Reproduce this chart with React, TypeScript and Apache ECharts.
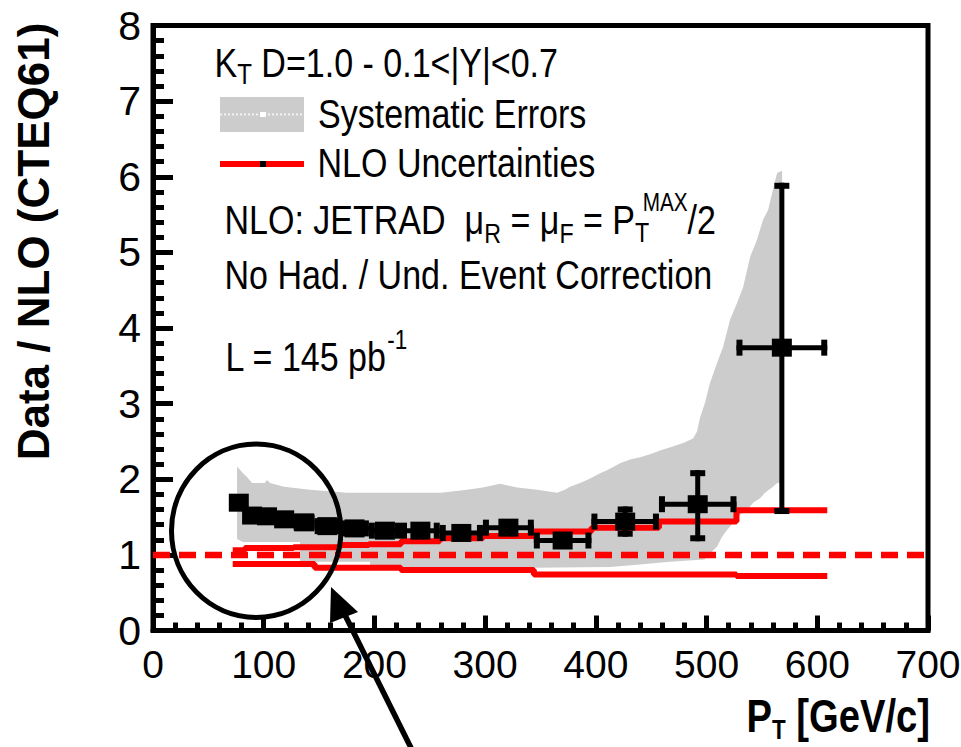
import { useEffect, useRef } from "react";
import * as echarts from "echarts";

const SANS = "'Liberation Sans', Arial, Helvetica, sans-serif";
const SX = 0.83; // horizontal condensing of the reference's narrow lettering

// Axis ranges / ticks
const xRange = [0, 700];
const yRange = [0, 8];

// Data / NLO points (bins in pT, GeV/c)
const binLow = [72, 83, 96, 110, 127, 146, 169, 195, 224, 259, 298, 344, 396, 457, 527];
const binHigh = [83, 96, 110, 127, 146, 169, 195, 224, 259, 298, 344, 396, 457, 527, 609];
const dataRatio = [1.69, 1.52, 1.51, 1.47, 1.43, 1.38, 1.35, 1.32, 1.32, 1.29, 1.36, 1.19, 1.44, 1.67, 3.74];
const statErrUp = [0.03, 0.03, 0.03, 0.03, 0.04, 0.04, 0.04, 0.05, 0.06, 0.07, 0.08, 0.1, 0.2, 0.45, 2.18];
const statErrDown = [0.03, 0.03, 0.03, 0.03, 0.04, 0.04, 0.04, 0.05, 0.06, 0.07, 0.08, 0.1, 0.2, 0.49, 2.2];

// NLO uncertainties (step lines)
const nloEdges = [72, 83, 96, 110, 127, 146, 169, 195, 224, 259, 298, 344, 396, 457, 527, 609];
const nloUpper = [1.06, 1.09, 1.09, 1.09, 1.1, 1.1, 1.13, 1.14, 1.18, 1.22, 1.25, 1.31, 1.36, 1.44, 1.59];
const nloLower = [0.88, 0.88, 0.88, 0.88, 0.88, 0.83, 0.83, 0.83, 0.8, 0.8, 0.8, 0.74, 0.74, 0.74, 0.72];

// Systematic error band
const sysUpperPt = [75.9, 81.3, 84.9, 89.4, 101, 103, 105.7, 118.3, 141.8, 175, 260, 283.6, 298, 313.5, 328.8, 346.9, 365, 372, 376.7, 385.7, 392, 397.5, 403.8, 410, 416.4, 421.9, 430.9, 440, 449, 458, 468.8, 478.8, 487.8, 491.4, 494, 498.6, 503, 509.5, 514.9, 521.2, 527.5, 533, 539.3, 545.6, 551, 555.6, 560, 563.7, 568.2];
const sysUpperVal = [2.17, 2.08, 2.03, 1.95, 1.95, 1.99, 1.95, 1.9, 1.86, 1.82, 1.82, 1.86, 1.89, 1.94, 1.89, 1.86, 1.82, 1.86, 1.9, 1.95, 1.99, 2.03, 2.08, 2.12, 2.17, 2.21, 2.26, 2.29, 2.33, 2.38, 2.43, 2.48, 2.54, 2.63, 2.81, 3.01, 3.27, 3.54, 3.75, 4.11, 4.33, 4.54, 4.94, 5.17, 5.43, 5.56, 5.83, 6.05, 6.08];
const sysLowerPt = [75.9, 81.3, 132.8, 132.8, 196, 196, 412.8, 437, 467, 498, 504, 509.5, 514, 518.5, 524, 530.3, 536.6, 542, 548.3, 552.8, 560, 563.7, 568.2];
const sysLowerVal = [1.21, 1.17, 1.17, 0.91, 0.91, 0.81, 0.84, 0.87, 0.91, 0.94, 1.03, 1.11, 1.24, 1.33, 1.42, 1.53, 1.59, 1.69, 1.75, 1.82, 1.9, 1.95, 1.95];

// Reference line Data/NLO = 1
const refLineX = [0, 725];
const refLineY = [1, 1];

const RED = "#ff0000";

export default function App() {
  const ref = useRef<HTMLDivElement>(null);

  useEffect(() => {
    if (!ref.current) return;
    const chart = echarts.init(ref.current, null, { renderer: "svg" });

    const stepData = (vals: number[]) => {
      const d: number[][] = vals.map((v, i) => [nloEdges[i], v]);
      d.push([nloEdges[nloEdges.length - 1], vals[vals.length - 1]]);
      return d;
    };

    const pointData = binLow.map((lo, i) => [
      (lo + binHigh[i]) / 2,
      dataRatio[i],
      lo,
      binHigh[i],
      statErrUp[i],
      statErrDown[i],
    ]);

    const plain = (size: number, extra: any = {}) => ({ fontFamily: SANS, fontSize: size, lineHeight: 50, fill: "#000", ...extra });

    const option: any = {
      animation: false,
      backgroundColor: "#ffffff",
      grid: {
        left: 153,
        top: 25.5,
        width: 775,
        height: 605,
        show: true,
        borderColor: "#000",
        borderWidth: 5,
        backgroundColor: "transparent",
        containLabel: false,
        outerBoundsMode: "none",
      },
      xAxis: {
        type: "value",
        min: xRange[0],
        max: xRange[1],
        interval: 100,
        axisLine: { show: true, lineStyle: { color: "#000", width: 5 } },
        axisTick: { show: true, inside: true, length: 15, lineStyle: { color: "#000", width: 5 } },
        minorTick: { show: true, splitNumber: 5, length: 8, lineStyle: { color: "#000", width: 5 } },
        splitLine: { show: false },
        minorSplitLine: { show: false },
        axisLabel: { fontFamily: SANS, fontSize: 39, color: "#000", margin: 14, showMinLabel: true, showMaxLabel: true },
      },
      yAxis: {
        type: "value",
        min: yRange[0],
        max: yRange[1],
        interval: 1,
        axisLine: { show: true, lineStyle: { color: "#000", width: 5 } },
        axisTick: { show: true, inside: true, length: 20, lineStyle: { color: "#000", width: 5 } },
        minorTick: { show: true, splitNumber: 5, length: 11, lineStyle: { color: "#000", width: 5 } },
        splitLine: { show: false },
        minorSplitLine: { show: false },
        axisLabel: { fontFamily: SANS, fontSize: 41, color: "#000", margin: 12, showMinLabel: true, showMaxLabel: true },
      },
      series: [
        {
          name: "Systematic Errors",
          type: "custom",
          z: 1,
          silent: true,
          data: [[0, 0]],
          renderItem: (_p: any, api: any) => {
            const pts: number[][] = [];
            for (let i = 0; i < sysUpperPt.length; i++) pts.push(api.coord([sysUpperPt[i], sysUpperVal[i]]));
            for (let i = sysLowerPt.length - 1; i >= 0; i--) pts.push(api.coord([sysLowerPt[i], sysLowerVal[i]]));
            return { type: "polygon", shape: { points: pts }, style: { fill: "#cccccc", stroke: "none" } };
          },
        },
        {
          name: "NLO upper",
          type: "line",
          step: "end",
          z: 2,
          symbol: "none",
          silent: true,
          data: stepData(nloUpper),
          lineStyle: { color: RED, width: 6 },
        },
        {
          name: "NLO lower",
          type: "line",
          step: "end",
          z: 2,
          symbol: "none",
          silent: true,
          data: stepData(nloLower),
          lineStyle: { color: RED, width: 6 },
        },
        {
          name: "Ratio 1",
          type: "line",
          z: 3,
          symbol: "none",
          silent: true,
          clip: false,
          data: refLineX.map((x, i) => [x, refLineY[i]]),
          lineStyle: { color: RED, width: 6.5, type: [17, 9] },
        },
        {
          name: "Errors",
          type: "custom",
          z: 4,
          silent: true,
          encode: { x: 0, y: 1 },
          data: pointData,
          renderItem: (_p: any, api: any) => {
            const xc = api.value(0) as number;
            const yv = api.value(1) as number;
            const lo = api.value(2) as number;
            const hi = api.value(3) as number;
            const eu = api.value(4) as number;
            const ed = api.value(5) as number;
            const pL = api.coord([lo, yv]);
            const pR = api.coord([hi, yv]);
            const pT = api.coord([xc, yv + eu]);
            const pB = api.coord([xc, yv - ed]);
            const s = { fill: "#000" };
            return {
              type: "group",
              children: [
                { type: "rect", shape: { x: pL[0], y: pL[1] - 2.5, width: pR[0] - pL[0], height: 5 }, style: s },
                { type: "rect", shape: { x: pL[0], y: pL[1] - 8, width: 6, height: 16 }, style: s },
                { type: "rect", shape: { x: pR[0] - 6, y: pR[1] - 8, width: 6, height: 16 }, style: s },
                { type: "rect", shape: { x: pT[0] - 2.5, y: pT[1], width: 5, height: pB[1] - pT[1] }, style: s },
                { type: "rect", shape: { x: pT[0] - 7.5, y: pT[1], width: 15, height: 6 }, style: s },
                { type: "rect", shape: { x: pB[0] - 7.5, y: pB[1] - 6, width: 15, height: 6 }, style: s },
              ],
            };
          },
        },
        {
          name: "Data",
          type: "scatter",
          z: 5,
          silent: true,
          symbol: "rect",
          symbolSize: [20, 18],
          itemStyle: { color: "#000", opacity: 1 },
          data: pointData.map((d) => [d[0], d[1]]),
        },
      ],
      graphic: [
        // Y axis title
        {
          type: "text",
          x: 33,
          y: 241.5,
          rotation: Math.PI / 2,
          z: 20,
          style: {
            text: "Data / NLO (CTEQ61)",
            fontFamily: SANS,
            fontWeight: "bold",
            fontSize: 44,
            fill: "#000",
            align: "center",
            verticalAlign: "middle",
          },
        },
        // X axis title
        {
          type: "text",
          x: 930,
          y: 716,
          scaleX: SX,
          z: 20,
          style: {
            text: "{b|P}{bs|T}{b|\u00a0[GeV/c]}",
            align: "right",
            verticalAlign: "middle",
            ...plain(46, { fontWeight: "bold" }),
            rich: {
              b: plain(46, { fontWeight: "bold" }),
              bs: plain(27, { fontWeight: "bold", padding: [28, 0, 0, 0] }),
            },
          },
        },
        // Header line
        {
          type: "text",
          x: 214.5,
          y: 37.4,
          scaleX: SX,
          z: 20,
          style: {
            text: "{m|K}{s|T}{m|\u00a0D=1.0 - 0.1<|Y|<0.7}",
            align: "left",
            verticalAlign: "top",
            ...plain(41),
            rich: {
              m: plain(41),
              s: plain(29, { padding: [24, 0, 0, 0] }),
            },
          },
        },
        // Legend: systematic errors
        { type: "rect", z: 20, shape: { x: 220, y: 97, width: 84, height: 35 }, style: { fill: "#cccccc" } },
        { type: "line", z: 21, shape: { x1: 220, y1: 114.5, x2: 304, y2: 114.5 }, style: { stroke: "#f4f4f4", lineWidth: 2, lineDash: [2, 2] } },
        { type: "rect", z: 21, shape: { x: 260, y: 112, width: 6, height: 5 }, style: { fill: "#ffffff" } },
        {
          type: "text",
          x: 318,
          y: 89,
          scaleX: SX,
          z: 20,
          style: { text: "Systematic Errors", ...plain(41), align: "left", verticalAlign: "top" },
        },
        // Legend: NLO uncertainties
        { type: "line", z: 20, shape: { x1: 220, y1: 164, x2: 304, y2: 164 }, style: { stroke: RED, lineWidth: 6 } },
        { type: "rect", z: 21, shape: { x: 260, y: 161, width: 6, height: 6 }, style: { fill: "#000" } },
        {
          type: "text",
          x: 317.5,
          y: 137.4,
          scaleX: SX,
          z: 20,
          style: { text: "NLO Uncertainties", ...plain(41), align: "left", verticalAlign: "top" },
        },
        // NLO: JETRAD line
        {
          type: "text",
          x: 224.5,
          y: 195,
          scaleX: SX,
          z: 20,
          style: {
            text: "{m|NLO: JETRAD\u00a0\u00a0\u03bc}{s|R}{m|\u00a0=\u00a0\u03bc}{s|F}{m|\u00a0=\u00a0P}{t|T}{p|MAX}{m|/2}",
            align: "left",
            verticalAlign: "top",
            ...plain(41),
            rich: {
              m: plain(41),
              s: plain(28, { padding: [27, 0, 0, 0] }),
              t: plain(28, { padding: [25, 0, 0, 0] }),
              p: plain(25, { padding: [0, 0, 36, -8] }),
            },
          },
        },
        {
          type: "text",
          x: 224.5,
          y: 250,
          scaleX: SX,
          z: 20,
          style: { text: "No Had. / Und. Event Correction", ...plain(41), align: "left", verticalAlign: "top" },
        },
        {
          type: "text",
          x: 225.5,
          y: 331.4,
          scaleX: SX,
          z: 20,
          style: {
            text: "{m|L = 145 pb}{p|-1}",
            align: "left",
            verticalAlign: "top",
            ...plain(41),
            rich: {
              m: plain(41),
              p: plain(27, { padding: [0, 0, 34, 0] }),
            },
          },
        },
        // Annotation circle and arrow
        {
          type: "ellipse",
          z: 30,
          shape: { cx: 256.2, cy: 530.8, rx: 84.7, ry: 86.7 },
          style: { fill: "none", stroke: "#000", lineWidth: 5 },
        },
        {
          type: "line",
          z: 30,
          shape: { x1: 343.5, y1: 612, x2: 418, y2: 762 },
          style: { stroke: "#000", lineWidth: 5.5 },
        },
        {
          type: "polygon",
          z: 30,
          shape: { points: [[331, 587], [358, 612], [330, 623]] },
          style: { fill: "#000" },
        },
      ],
    };

    chart.setOption(option);
    return () => chart.dispose();
  }, []);

  return (
    <div
      ref={ref}
      style={{ position: "fixed", left: 0, top: 0, width: 961, height: 747, background: "#fff" }}
    />
  );
}
